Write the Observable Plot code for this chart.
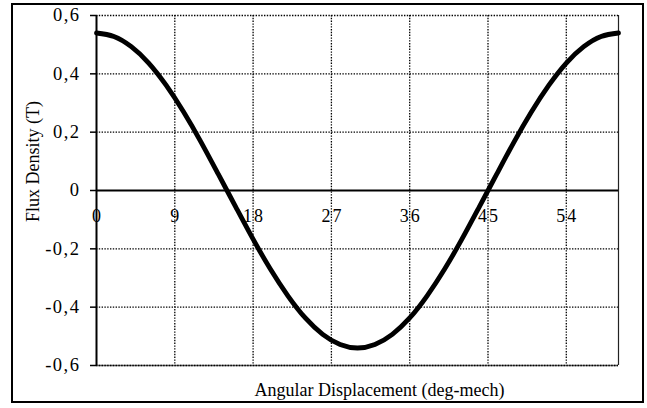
<!DOCTYPE html>
<html>
<head>
<meta charset="utf-8">
<script src="https://cdn.jsdelivr.net/npm/d3@7"></script>
<script src="https://cdn.jsdelivr.net/npm/@observablehq/plot@0.6"></script>
<style>
  html, body { margin: 0; padding: 0; background: #fff; }
  #chart { width: 647px; height: 408px; }
</style>
</head>
<body>
<div id="chart"></div>
<script>
// Angular displacement (deg-mech), every 2 degrees
const angle = [0, 2, 4, 6, 8, 10, 12, 14, 16, 18, 20, 22, 24, 26, 28, 30,
               32, 34, 36, 38, 40, 42, 44, 46, 48, 50, 52, 54, 56, 58, 60];
// Flux density (T)
const flux = [0.540, 0.528, 0.493, 0.437, 0.361, 0.270, 0.167, 0.056, -0.056, -0.167,
              -0.270, -0.361, -0.437, -0.493, -0.528, -0.540, -0.528, -0.493, -0.437, -0.361,
              -0.270, -0.167, -0.056, 0.056, 0.167, 0.270, 0.361, 0.437, 0.493, 0.528, 0.540];

const xTicks = [0, 9, 18, 27, 36, 45, 54];
const xGrid = [9, 18, 27, 36, 45, 54];
const yTicks = [-0.6, -0.4, -0.2, 0, 0.2, 0.4, 0.6];
const yGrid = [-0.6, -0.4, -0.2, 0.2, 0.4, 0.6];
const xLabel = "Angular Displacement (deg-mech)";
const yLabel = "Flux Density (T)";

const data = angle.map((a, i) => ({angle: a, flux: flux[i]}));
const fmtY = d => d === 0 ? "0" : d.toFixed(1).replace(".", ",");
const dotted = {stroke: "#000", strokeOpacity: 1, strokeWidth: 1.3, strokeDasharray: "1.4,1.4"};

const chart = Plot.plot({
  width: 647,
  height: 408,
  marginLeft: 96,
  marginRight: 29,
  marginTop: 15,
  marginBottom: 43,
  style: {fontFamily: "'Liberation Serif', 'Times New Roman', serif", fontSize: "18px", background: "#fff", color: "#000"},
  x: {domain: [0, 60], axis: null},
  y: {domain: [-0.6, 0.6], axis: null},
  marks: [
    Plot.ruleY([-0.6], {stroke: "#666", strokeWidth: 1.6}),
    Plot.gridX(xGrid, dotted),
    Plot.gridY(yGrid, dotted),
    Plot.ruleX([60], {stroke: "#222", strokeWidth: 1.2}),
    Plot.ruleY([0], {stroke: "#000", strokeWidth: 2}),
    Plot.ruleX([0], {stroke: "#000", strokeWidth: 2}),
    Plot.axisY(yTicks, {tickSize: 6, tickPadding: 10, tickFormat: fmtY, fontSize: 18.5, label: null, strokeWidth: 1.5}),
    Plot.text(xTicks, {x: d => d, y: () => 0, text: d => String(d), dy: 26, dx: 1, fontSize: 18, lineAnchor: "middle", textAnchor: "middle"}),
    Plot.line(data, {x: "angle", y: "flux", stroke: "#000", strokeWidth: 4.8, curve: "natural"}),
    Plot.text([yLabel], {frameAnchor: "left", rotate: -90, dx: -63, dy: -29, fontSize: 18, lineAnchor: "middle", textAnchor: "middle"}),
    Plot.text([xLabel], {frameAnchor: "bottom", dx: 22, dy: 25, fontSize: 18, lineAnchor: "middle", textAnchor: "middle"})
  ]
});

const svg = d3.select(chart);
svg.selectAll('g[aria-label="y-axis tick label"] text').style("letter-spacing", "1.5px");
const textGroups = svg.selectAll('g[aria-label="text"]').nodes();
if (textGroups.length) d3.select(textGroups[0]).selectAll("text").style("letter-spacing", "2px");

svg.append("rect")
  .attr("x", 12).attr("y", 4).attr("width", 631).attr("height", 398)
  .attr("fill", "none").attr("stroke", "#000").attr("stroke-width", 2);

document.getElementById("chart").appendChild(chart);
</script>
</body>
</html>
